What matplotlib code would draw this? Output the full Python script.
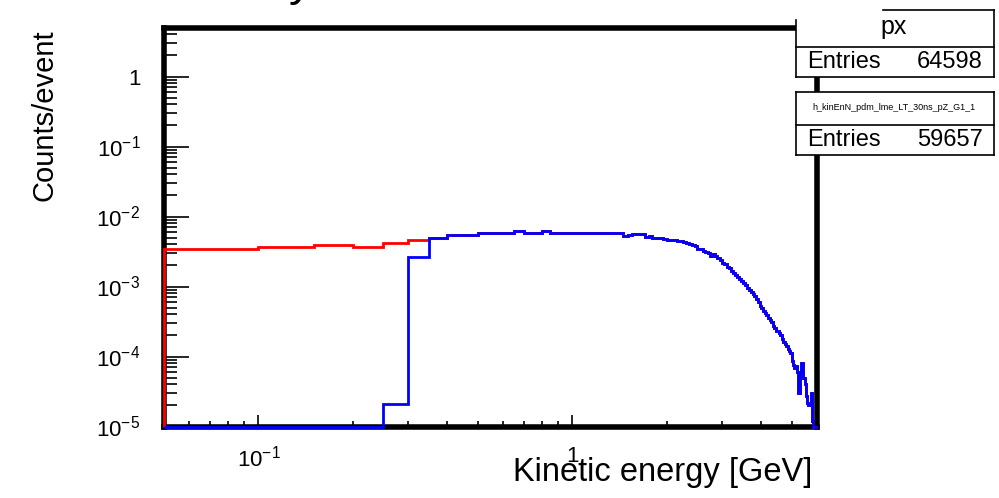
import numpy as np
import matplotlib
matplotlib.use("Agg")
import matplotlib.pyplot as plt
from matplotlib.patches import Rectangle
from matplotlib.lines import Line2D
from matplotlib.ticker import FuncFormatter, LogLocator, FixedLocator

plt.rcParams['font.family'] = ['Liberation Sans', 'DejaVu Sans']
plt.rcParams['mathtext.fontset'] = 'custom'
plt.rcParams['mathtext.rm'] = 'Liberation Sans'
plt.rcParams['mathtext.it'] = 'Liberation Sans:italic'
plt.rcParams['mathtext.bf'] = 'Liberation Sans:bold'

# histogram binning: 0.05 GeV bins starting at 0.05 GeV
bin_lo = 0.05
bin_width = 0.05

# blue histogram (counts/event per bin)
blue_vals = [
    1e-5, 1e-5, 1e-5, 1e-5, 2.1e-5, 2.68e-3, 4.91e-3, 5.42e-3, 5.42e-3, 5.79e-3,
    5.79e-3, 5.79e-3, 6.19e-3, 5.79e-3, 5.79e-3, 6.19e-3, 5.8e-3, 5.8e-3, 5.75e-3, 5.8e-3,
    5.78e-3, 5.8e-3, 5.75e-3, 5.8e-3, 5.76e-3, 5.8e-3, 5.78e-3, 5.75e-3, 5.35e-3, 5.45e-3,
    5.7e-3, 5.65e-3, 5.6e-3, 5.1e-3, 5.3e-3, 4.95e-3, 4.9e-3, 4.92e-3, 4.85e-3, 4.65e-3,
    4.65e-3, 4.6e-3, 4.5e-3, 4.4e-3, 4.35e-3, 4.2e-3, 4.1e-3, 3.94e-3, 3.75e-3, 3.46e-3,
    3.4e-3, 3.25e-3, 3.16e-3, 3.0e-3, 2.77e-3, 2.9e-3, 2.7e-3, 2.55e-3, 2.4e-3, 2.2e-3,
    2.1e-3, 1.9e-3, 1.83e-3, 1.65e-3, 1.55e-3, 1.45e-3, 1.35e-3, 1.3e-3, 1.2e-3, 1.12e-3,
    1.05e-3, 9.5e-4, 9.0e-4, 8.3e-4, 7.8e-4, 7.3e-4, 6.6e-4, 6.0e-4, 5.3e-4, 4.9e-4,
    4.5e-4, 4.2e-4, 3.9e-4, 3.6e-4, 3.3e-4, 3.1e-4, 2.7e-4, 2.55e-4, 2.35e-4, 2.3e-4,
    2.16e-4, 2.0e-4, 1.75e-4, 1.6e-4, 1.5e-4, 1.39e-4, 1.3e-4, 1.2e-4, 1.12e-4, 8.5e-5,
    7.5e-5, 6.8e-5, 7.2e-5, 6.0e-5, 3.0e-5, 6.1e-5, 8.0e-5, 8.0e-5, 5.0e-5, 4.0e-5,
    2.7e-5, 2.2e-5, 2.0e-5, 2.0e-5, 3.0e-5, 1.2e-5, 1.0e-5, 1.0e-5, 1.0e-5,
]

# red histogram: only the first bins are visible, the rest lies under the blue one
red_head = [3.46e-3, 3.61e-3, 3.90e-3, 3.61e-3, 4.25e-3, 4.57e-3]
red_vals = red_head + blue_vals[len(red_head):]

edges = bin_lo + bin_width * np.arange(len(blue_vals) + 1)

xlim = (0.05, 6.0)
ylim = (1e-5, 5.0)

W, H = 999, 498
fig = plt.figure(figsize=(W / 100, H / 100), dpi=100)

def fx(x):
    return x / W

def fy(y):
    return 1 - y / H

ax = fig.add_axes([fx(164), fy(426.5), (816.6 - 164) / W, (426.5 - 27.6) / H])
ax.set_xscale('log')
ax.set_yscale('log')
ax.set_xlim(*xlim)
ax.set_ylim(*ylim)

ax.stairs(red_vals, edges, baseline=1e-5, color='#ff0000', lw=2, zorder=3, clip_on=False)
ax.stairs(blue_vals, edges, baseline=1e-5, color='#0000ff', lw=2, zorder=4, clip_on=False)

for s in ax.spines.values():
    s.set_linewidth(4)

def root_fmt(v, pos):
    e = int(round(np.log10(v)))
    return '1' if e == 0 else r'$10^{%d}$' % e

ax.yaxis.set_major_locator(LogLocator(base=10, numticks=20))
ax.yaxis.set_minor_locator(LogLocator(base=10, subs=np.arange(2, 10), numticks=20))
ax.yaxis.set_major_formatter(FuncFormatter(root_fmt))
ax.xaxis.set_major_locator(FixedLocator([0.1, 1.0]))
ax.xaxis.set_minor_locator(LogLocator(base=10, subs=np.arange(2, 10), numticks=20))
ax.xaxis.set_major_formatter(FuncFormatter(root_fmt))
ax.xaxis.set_minor_formatter(FuncFormatter(lambda v, p: ''))
ax.yaxis.set_minor_formatter(FuncFormatter(lambda v, p: ''))

ax.tick_params(axis='y', which='major', direction='in', length=18, width=1.2, pad=17, labelsize=16)
ax.tick_params(axis='y', which='minor', direction='in', length=9, width=1.2)
ax.tick_params(axis='x', which='major', direction='in', length=9, width=1.2, pad=14, labelsize=16)
ax.tick_params(axis='x', which='minor', direction='in', length=4.5, width=1.2)

fig.text(fx(45), fy(29), 'Counts/event', rotation=90, ha='center', va='top', fontsize=21)
fig.text(fx(812), fy(472), 'Kinetic energy [GeV]', ha='right', va='center', fontsize=23.5)
# title mostly cut off at the top of the canvas: only the tail of a "y" shows
fig.text(fx(289), fy(-5), 'y', ha='left', va='baseline', fontsize=34)

# stat boxes
def box(x0, y0, x1, y1):
    fig.patches.append(Rectangle((fx(x0), fy(y1)), fx(x1) - fx(x0), fy(y0) - fy(y1),
                                 transform=fig.transFigure, facecolor='white',
                                 edgecolor='none', zorder=5))

def hline(x0, x1, y):
    fig.lines.append(Line2D([fx(x0), fx(x1)], [fy(y), fy(y)], transform=fig.transFigure,
                            color='black', lw=1.2, zorder=6))

def vline(x, y0, y1):
    fig.lines.append(Line2D([fx(x), fx(x)], [fy(y0), fy(y1)], transform=fig.transFigure,
                            color='black', lw=1.2, zorder=6))

box(796, 10, 994, 77)
hline(883, 994, 10)
vline(796, 20, 77)
vline(994, 10, 77)
hline(796, 994, 46.5)
hline(796, 994, 77)
fig.text(fx(894), fy(34), 'px', ha='center', va='baseline', fontsize=18, zorder=7)
fig.text(fx(807), fy(62), 'Entries', ha='left', va='center', fontsize=17, zorder=7)
fig.text(fx(983), fy(62), '64598', ha='right', va='center', fontsize=17, zorder=7)

box(796, 92, 994, 155)
hline(796, 994, 92)
vline(796, 92, 155)
vline(994, 92, 155)
hline(796, 994, 125)
hline(796, 994, 155)
fig.text(fx(894), fy(108), 'h_kinEnN_pdm_lme_LT_30ns_pZ_G1_1', ha='center', va='center',
         fontsize=6.5, zorder=7)
fig.text(fx(807), fy(140), 'Entries', ha='left', va='center', fontsize=17, zorder=7)
fig.text(fx(983), fy(140), '59657', ha='right', va='center', fontsize=17, zorder=7)

fig.savefig('out.png', dpi=100)
